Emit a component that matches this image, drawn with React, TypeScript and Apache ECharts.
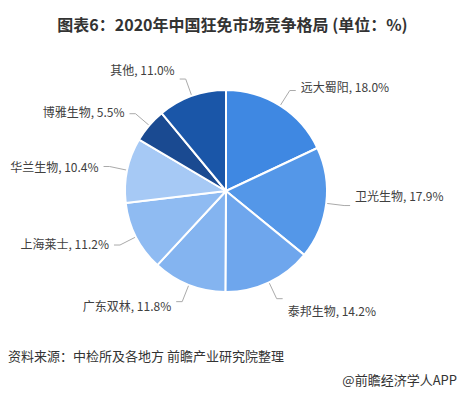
import React, { useEffect, useRef } from "react";
import * as echarts from "echarts";

const names = ["远大蜀阳", "卫光生物", "泰邦生物", "广东双林", "上海莱士", "华兰生物", "博雅生物", "其他"];
const values = [18.0, 17.9, 14.2, 11.8, 11.2, 10.4, 5.5, 11.0];
const colors = ["#3f88e2", "#5497e8", "#6ea6ed", "#84b4f0", "#8fbbf2", "#a6c9f5", "#1a4a91", "#1a56a8"];

const titleText = "图表6：2020年中国狂免市场竞争格局 (单位：%)";
const sourceText = "资料来源：中检所及各地方 前瞻产业研究院整理";
const creditText = "@前瞻经济学人APP";

// label nudges (style only)
const labelDy = [-4, -10, 12, 4, -2, 0, -2, -10];

export default function App() {
  const ref = useRef<HTMLDivElement>(null);
  useEffect(() => {
    const chart = echarts.init(ref.current!, null, { renderer: "svg" });
    const font = '"Noto Sans CJK SC", "Microsoft YaHei", sans-serif';
    chart.setOption({
      animation: false,
      backgroundColor: "#ffffff",
      title: {
        text: titleText,
        left: "center",
        top: 11,
        textStyle: { fontFamily: font, fontSize: 16, fontWeight: "bold", color: "#333" },
      },
      graphic: [
        { type: "text", left: 8, top: 349, style: { text: sourceText, font: `13px ${font}`, fill: "#333" } },
        { type: "text", right: 8, top: 373, style: { text: creditText, font: `13px ${font}`, fill: "#333" } },
      ],
      series: [
        {
          type: "pie",
          center: [226, 191],
          radius: [0, 101],
          startAngle: 90,
          clockwise: true,
          data: names.map((n, i) => ({ name: n, value: values[i], itemStyle: { color: colors[i] } })),
          itemStyle: { borderColor: "#fff", borderWidth: 2 },
          label: {
            formatter: (p: any) => `${p.name}, ${p.value.toFixed(1)}%`,
            fontFamily: font,
            fontSize: 12,
            color: "#404040",
          },
          labelLine: { length: 18, length2: 6, lineStyle: { color: "#aaa", width: 1 } },
          labelLayout: (p: any) => ({ dy: labelDy[p.dataIndex] || 0 }),
        },
      ],
    });
    return () => chart.dispose();
  }, []);
  return <div ref={ref} style={{ position: "fixed", left: 0, top: 0, width: 465, height: 394 }} />;
}
